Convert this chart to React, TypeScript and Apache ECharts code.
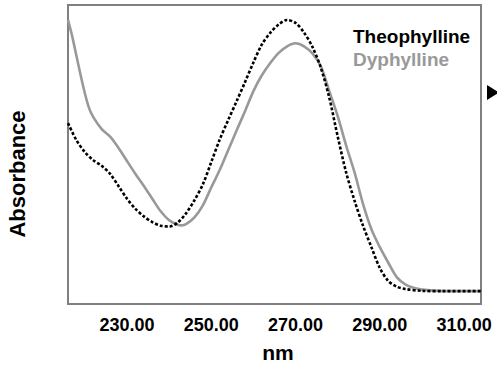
import React, { useEffect, useRef } from "react";
import * as echarts from "echarts";

// UV absorbance spectra (wavelength in nm, relative absorbance)
const seriesNames = ["Theophylline", "Dyphylline"];
const tickValues = [230, 250, 270, 290, 310];

const theophyllineNm = [
  216, 218, 220, 222, 224, 226, 228, 230, 232, 234, 236, 238, 240, 242, 244, 246, 248,
  250, 252, 254, 256, 258, 260, 262, 264, 266, 268, 270, 272, 274, 276, 278, 280, 282,
  284, 286, 288, 290, 292, 294, 296, 300, 305, 314,
];
const theophyllineAbs = [
  0.605, 0.548, 0.508, 0.481, 0.462, 0.435, 0.394, 0.352, 0.318, 0.293, 0.274, 0.262,
  0.259, 0.272, 0.303, 0.347, 0.4, 0.475, 0.55, 0.615, 0.678, 0.742, 0.808, 0.868, 0.907,
  0.935, 0.95, 0.94, 0.908, 0.86, 0.79, 0.69, 0.56, 0.44, 0.345, 0.262, 0.19, 0.12, 0.077,
  0.058, 0.05, 0.044, 0.043, 0.043,
];

const dyphyllineNm = [
  216, 217, 218, 219, 220, 221, 222, 224, 226, 228, 230, 232, 234, 236, 238, 240, 242,
  243, 244, 246, 248, 250, 252, 254, 256, 258, 260, 262, 264, 266, 268, 270, 272, 274,
  276, 278, 280, 282, 284, 286, 288, 290, 292, 294, 296, 298, 300, 304, 314,
];
const dyphyllineAbs = [
  0.95, 0.895, 0.83, 0.765, 0.705, 0.655, 0.625, 0.585, 0.56, 0.522, 0.478, 0.435, 0.395,
  0.352, 0.31, 0.28, 0.265, 0.263, 0.267, 0.29, 0.33, 0.39, 0.448, 0.514, 0.58, 0.645,
  0.712, 0.765, 0.806, 0.84, 0.862, 0.872, 0.862, 0.838, 0.795, 0.712, 0.628, 0.53, 0.44,
  0.335, 0.25, 0.19, 0.138, 0.09, 0.066, 0.054, 0.048, 0.044, 0.043,
];

const FONT = "'Liberation Sans', Arial, Helvetica, sans-serif";
const GREY_LINE = "#999999";

function pairs(xs: number[], ys: number[]) {
  return xs.map((x, i) => [x, ys[i]]);
}

export default function App() {
  const ref = useRef<HTMLDivElement>(null);

  useEffect(() => {
    if (!ref.current) return;
    document.body.style.margin = "0";
    const chart = echarts.init(ref.current, null, { renderer: "svg" });
    chart.setOption({
      animation: false,
      backgroundColor: "#ffffff",
      grid: {
        left: 68,
        top: 5,
        right: 16,
        bottom: 63,
        show: true,
        borderColor: "#808080",
        borderWidth: 2,
        backgroundColor: "transparent",
      },
      xAxis: {
        type: "value",
        min: 216,
        max: 314,
        axisLine: { show: false },
        axisTick: { show: false },
        splitLine: { show: false },
        axisLabel: {
          customValues: tickValues,
          formatter: (v: number) => v.toFixed(2),
          fontFamily: FONT,
          fontWeight: "bold",
          fontSize: 18,
          color: "#000000",
          margin: 12,
        },
      },
      yAxis: {
        type: "value",
        min: 0,
        max: 1,
        axisLine: { show: false },
        axisTick: { show: false },
        splitLine: { show: false },
        axisLabel: { show: false },
      },
      series: [
        {
          name: seriesNames[0],
          type: "line",
          data: pairs(theophyllineNm, theophyllineAbs),
          smooth: 0.3,
          showSymbol: false,
          z: 3,
          lineStyle: { color: "#000000", width: 2.6, type: [3, 2] },
        },
        {
          name: seriesNames[1],
          type: "line",
          data: pairs(dyphyllineNm, dyphyllineAbs),
          smooth: 0.3,
          showSymbol: false,
          z: 2,
          lineStyle: { color: GREY_LINE, width: 2.6 },
        },
      ],
      graphic: [
        {
          type: "text",
          left: 353,
          top: 27,
          style: { text: seriesNames[0], fill: "#000000", font: `bold 19px ${FONT}` },
        },
        {
          type: "text",
          left: 353,
          top: 50,
          style: { text: seriesNames[1], fill: GREY_LINE, font: `bold 19px ${FONT}` },
        },
        {
          type: "text",
          x: 278,
          y: 352,
          style: {
            text: "nm",
            fill: "#000000",
            font: `bold 21px ${FONT}`,
            align: "center",
            verticalAlign: "middle",
          },
        },
        {
          type: "text",
          x: 17,
          y: 174,
          rotation: Math.PI / 2,
          style: {
            text: "Absorbance",
            fill: "#000000",
            font: `bold 22px ${FONT}`,
            align: "center",
            verticalAlign: "middle",
          },
        },
        {
          type: "polygon",
          shape: { points: [[487, 85], [487, 100], [499, 92.5]] },
          style: { fill: "#000000" },
        },
      ],
    });
    return () => chart.dispose();
  }, []);

  return <div ref={ref} style={{ width: 497, height: 367 }} />;
}
